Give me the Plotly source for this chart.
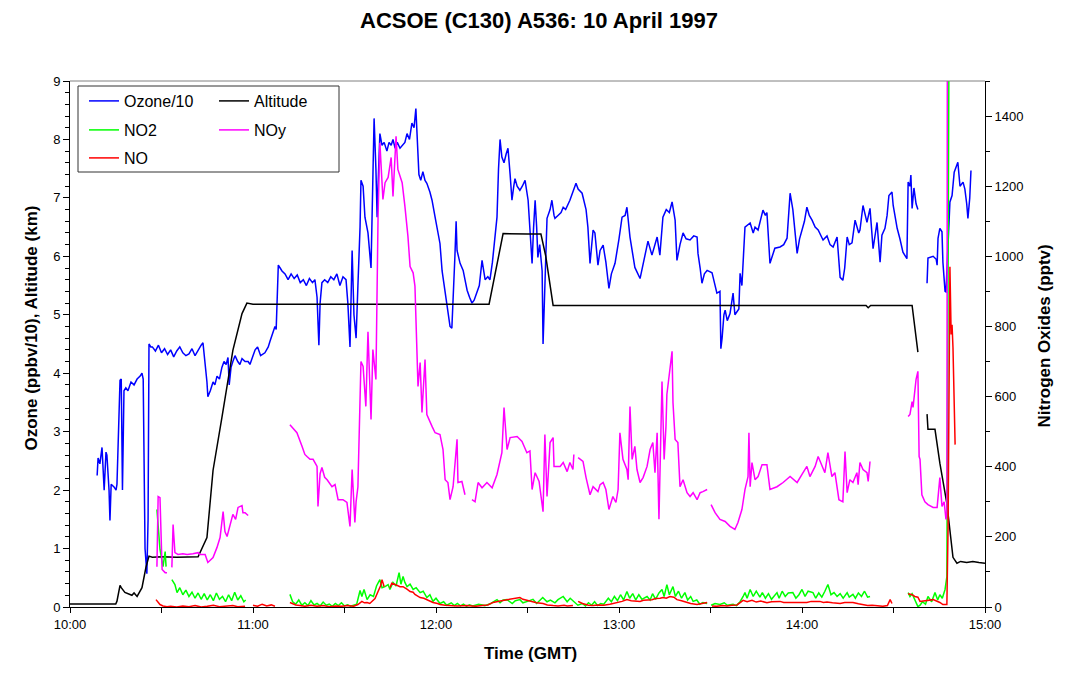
import pandas as pd
import plotly.graph_objects as go

# ---------------- data (minutes after 10:00 GMT, value) ----------------
OZONE = [(8.9,2.25),(9.2,2.55),(9.8,2.45),(10.5,2.73),(11.2,2.0),(11.8,2.65),(12.1,2.6),(12.8,2.0),(13.1,1.48),(13.5,2.1),(14.5,2.05),(15.1,2.0),(15.4,2.1),(16.1,3.7),(16.4,3.88),(16.8,3.9),(17.2,2.0),(17.7,3.7),(18.3,3.75),(19.0,3.7),(20.0,3.85),(21.0,3.8),(22.0,3.9),(23.0,3.95),(23.6,4.0),(24.0,3.9),(24.6,1.0),(25.2,0.57),(25.6,1.5),(25.9,4.5),(26.5,4.45),(27,4.45),(28,4.38),(29,4.48),(30,4.35),(31,4.42),(32,4.32),(33,4.4),(34,4.28),(35,4.38),(36,4.45),(37,4.35),(38,4.3),(39,4.33),(40,4.42),(41,4.3),(42,4.4),(43,4.48),(43.6,4.52),(44.3,4.2),(44.9,3.85),(45.2,3.6),(46.0,3.7),(46.9,3.85),(47.5,3.8),(48.2,3.95),(49.0,3.9),(49.8,4.1),(50.5,4.2),(51.2,4.15),(51.8,4.27),(52.2,3.8),(52.8,4.1),(53.4,4.2),(54.1,4.3),(55,4.2),(55.7,4.15),(56.4,4.25),(57.4,4.2),(58.4,4.2),(59.0,4.15),(60,4.3),(60.7,4.4),(61.5,4.45),(62.5,4.3),(63.9,4.35),(65.0,4.45),(65.6,4.55),(66.6,4.7),(67.2,4.8),(67.6,4.75),(67.9,5.4),(68.3,5.85),(68.9,5.8),(69.5,5.75),(70.5,5.7),(71.5,5.6),(72.5,5.7),(73.5,5.62),(74.5,5.68),(75.5,5.55),(76.5,5.6),(77.5,5.5),(78.5,5.62),(79.5,5.55),(80.3,5.6),(81.0,5.3),(81.6,4.48),(82.0,5.2),(82.6,5.55),(83.5,5.6),(84.5,5.55),(85.5,5.65),(86.5,5.6),(87.5,5.7),(88.5,5.5),(89.5,5.65),(90.5,5.6),(91.1,5.2),(91.8,4.45),(92.5,6.1),(93.1,5.0),(93.8,4.6),(94.4,5.5),(95.1,6.5),(95.4,7.3),(96.1,7.2),(96.7,6.67),(97.3,6.5),(97.7,6.4),(98.7,5.8),(99.7,8.36),(100.3,7.5),(100.7,6.67),(101.0,7.2),(101.6,8.1),(102.3,7.9),(103.0,7.95),(103.9,7.8),(104.6,7.95),(105.3,7.9),(105.9,8.0),(106.6,7.85),(107.3,7.95),(108.2,7.85),(109.0,7.9),(109.8,7.95),(110.5,8.1),(111.3,8.0),(112.1,8.28),(112.8,8.2),(113.4,8.53),(113.8,8.1),(114.4,7.4),(115.0,7.3),(115.7,7.45),(116.4,7.3),(117.0,7.25),(118.0,7.1),(118.7,6.96),(119.7,6.67),(120.5,6.45),(121.3,6.22),(122.0,5.75),(122.3,5.64),(123.0,5.4),(123.6,5.2),(124.2,5.0),(124.6,4.8),(125.2,4.77),(125.6,5.2),(126.2,6.0),(126.6,6.6),(126.9,6.1),(127.9,5.88),(128.9,5.76),(129.5,5.6),(130.2,5.42),(131.0,5.3),(131.8,5.2),(132.5,5.25),(133.4,5.37),(134.2,5.5),(135.1,5.93),(136.1,5.6),(137.0,5.65),(137.7,5.6),(138.5,5.9),(139.3,6.3),(140.0,6.67),(140.5,7.5),(141.0,8.0),(141.6,7.7),(142.3,7.6),(143.0,7.75),(143.6,7.85),(144.3,7.4),(144.9,6.96),(145.5,7.2),(145.9,7.33),(146.6,7.2),(147.5,7.13),(148.3,7.2),(149.2,7.3),(150.2,6.96),(150.8,6.5),(151.5,5.88),(152.0,6.5),(152.5,6.96),(153.0,6.5),(153.4,5.98),(154.0,6.2),(154.8,5.75),(155.1,4.5),(155.5,5.3),(156.4,6.65),(157.4,6.8),(158.0,6.96),(158.7,6.7),(159.0,6.65),(160.0,6.7),(161.0,6.75),(161.7,6.84),(162.5,6.8),(163.9,6.96),(164.9,7.1),(165.9,7.25),(166.6,7.15),(167.9,7.08),(169.2,6.8),(169.8,6.5),(170.5,5.88),(171.0,6.2),(171.5,6.45),(172.1,6.4),(172.8,6.0),(173.1,5.85),(173.8,6.1),(174.8,6.19),(175.7,5.9),(176.7,5.45),(177.5,5.7),(178.7,5.88),(180.0,6.3),(181.0,6.67),(182.0,6.7),(182.6,6.84),(183.6,6.33),(184.5,6.0),(185.2,5.81),(186.9,5.62),(188.0,5.9),(189.5,6.26),(190.8,6.02),(192.5,6.33),(193.4,6.02),(194.4,6.67),(195.5,6.8),(196.5,6.75),(197.4,6.93),(198.4,6.62),(199.0,5.93),(200.0,6.2),(201.0,6.4),(202.0,6.3),(203.3,6.28),(204.5,6.35),(205.6,6.33),(205.9,6.05),(206.6,5.8),(207.2,5.54),(208.0,5.7),(208.9,5.76),(210.5,5.72),(211.5,5.5),(212.1,5.37),(213.1,5.4),(213.4,4.42),(213.8,4.6),(214.4,5.0),(214.8,5.08),(215.5,4.9),(216.4,5.02),(217.4,5.37),(218.0,5.0),(218.7,5.05),(219.3,5.1),(219.7,5.71),(220.3,5.5),(221.3,6.5),(222.3,6.55),(223.0,6.57),(224.0,6.4),(224.6,6.5),(225.6,6.45),(226.2,6.57),(227.2,6.79),(228.0,6.7),(228.5,6.75),(229.5,5.88),(230.3,6.0),(231.1,6.14),(232.8,6.16),(234.0,6.2),(235.1,6.31),(236.1,7.08),(237.0,6.8),(238.4,6.05),(239.2,6.3),(240.0,6.45),(240.8,6.6),(241.6,6.84),(242.4,6.7),(243.3,6.62),(244.3,6.5),(245.3,6.45),(246.9,6.28),(248.2,6.35),(249.2,6.2),(250.2,6.16),(251.5,6.33),(252.5,5.64),(253.4,5.59),(254.0,5.8),(254.8,6.33),(255.5,6.2),(256.4,6.23),(257.4,6.62),(258.0,6.5),(258.6,6.4),(259.0,6.45),(259.7,6.75),(260.0,6.87),(261.3,6.58),(262.3,6.82),(263.3,6.13),(264.6,6.58),(265.6,5.9),(266.2,6.36),(267.2,6.48),(267.9,6.7),(268.5,7.04),(269.5,7.1),(269.9,6.87),(271.2,6.48),(272.1,6.3),(273.1,6.07),(274.4,5.96),(274.8,7.27),(275.4,7.2),(275.7,7.39),(276.1,6.82),(276.7,7.17),(277.4,6.9),(278.0,6.8),(279.5,None),(281.0,5.54),(281.3,5.97),(283.0,6.0),(284.0,5.95),(284.3,5.85),(284.6,6.31),(285.2,6.48),(285.9,6.42),(286.2,5.9),(286.9,5.4),(287.2,5.39),(287.5,5.8),(288.5,6.93),(289.2,7.04),(289.9,7.44),(291.1,7.61),(291.8,7.2),(292.8,7.27),(293.4,7.15),(294.0,6.9),(294.4,6.65),(295.0,7.0),(295.4,7.47)]

ALTITUDE = [(0,0.05),(15.0,0.05),(15.4,0.1),(16.4,0.37),(16.8,0.33),(18.0,0.25),(20.3,0.2),(21.0,0.24),(22.0,0.18),(23.6,0.33),(24.9,0.68),(25.9,0.87),(27,0.85),(30,0.86),(35,0.85),(40,0.86),(42.0,0.86),(44.9,1.19),(46.9,2.34),(49.8,3.24),(53.4,4.39),(56.4,5.02),(58.0,5.2),(60,5.18),(80,5.18),(100,5.18),(120,5.17),(137.4,5.18),(139.0,5.6),(142.0,6.39),(150,6.38),(154.4,6.38),(156.0,6.0),(158.4,5.16),(180,5.16),(200,5.16),(230,5.16),(261.0,5.16),(261.7,5.12),(262.5,5.16),(276.1,5.16),(278.0,4.36),(279.5,None),(281.0,3.3),(281.3,3.04),(283.6,3.04),(285.2,2.46),(287.5,1.77),(289.5,0.85),(290.8,0.75),(292,0.78),(294,0.76),(296,0.78),(298,0.76),(300,0.75)]

NOY = [(28.5,115),(28.9,315),(29.5,312),(30.2,107),(31.2,98),(31.8,98),(32.5,None),(33.4,113),(33.8,235),(34.4,155),(35.4,150),(37,152),(38.4,150),(40.3,152),(42.0,155),(42.6,150),(44.3,150),(45.2,127),(46.9,141),(48.2,170),(49.2,198),(50.2,272),(50.8,215),(51.5,201),(52.5,235),(53.4,264),(54.3,250),(55.1,284),(56.4,289),(56.7,269),(57.4,269),(58.4,261),(65,None),
       (72.1,520),(74.4,497),(76.1,458),(77.0,435),(77.7,429),(78.7,421),(79.7,421),(80.3,412),(81.0,401),(81.3,287),(82.0,380),(82.6,398),(83.5,370),(84.3,363),(85.9,343),(86.9,349),(87.9,306),(89.5,306),(90.8,298),(91.8,230),(92.5,392),(93.4,241),(93.8,300),(94.4,343),(95.1,550),(95.4,700),(96.1,686),(97.0,572),(97.7,785),(98.7,535),(99.3,734),(100.3,649),(101.0,1113),(101.6,1324),(102.6,1162),(103.3,1210),(104.3,1225),(105.3,1282),(105.9,1171),(106.9,1342),(107.5,1248),(108.9,1210),(109.8,1143),(110.8,1057),(111.5,971),(112.5,953),(113.1,915),(113.4,820),(114.1,629),(114.8,697),(115.4,555),(116.4,706),(117.0,549),(118.7,515),(119.7,497),(121.3,492),(122.3,449),(123.0,363),(123.9,355),(124.6,306),(125.6,343),(126.9,478),(127.2,355),(128.5,358),(129.5,320),(130.7,None),
       (131.8,306),(132.8,300),(133.8,355),(135.1,340),(136.7,355),(138.4,340),(140.0,378),(141.6,440),(142.3,569),(143.3,449),(144.3,483),(146.6,486),(148.2,472),(149.8,440),(150.8,445),(151.5,335),(152.5,383),(153.8,358),(155.1,272),(155.7,492),(156.4,315),(157.4,469),(158.4,483),(158.7,401),(160.0,401),(160.7,401),(161.7,412),(163.0,386),(163.9,412),(164.9,392),(165.2,435),(165.9,None),
       (166.6,426),(168.2,415),(169.2,369),(170.5,320),(171.5,343),(173.1,329),(173.8,349),(174.8,355),(175.7,335),(176.7,278),(178.0,315),(179.0,298),(179.7,335),(180.3,497),(181.3,421),(182.6,392),(183.0,363),(183.6,572),(184.3,421),(185.2,458),(185.9,392),(186.9,355),(187.9,369),(189.2,401),(190.2,449),(191.1,469),(191.8,383),(192.5,497),(193.1,250),(194.1,643),(194.8,421),(195.4,515),(195.7,606),(196.7,672),(197.4,729),(197.7,583),(198.4,478),(199.3,469),(200.0,343),(201.0,363),(202.3,326),(203.3,315),(204.3,326),(205.6,306),(206.6,326),(207.5,329),(208.9,335),(209.6,None),
       (210.2,292),(211.5,269),(213.1,250),(214.8,244),(216.4,230),(218.0,221),(219.0,241),(220.3,278),(221.3,335),(222.3,372),(222.6,497),(223.0,343),(223.6,412),(224.6,363),(225.6,372),(226.9,406),(228.5,406),(229.5,335),(231.8,343),(233.8,355),(236.1,372),(238.4,355),(240.0,378),(241.6,401),(242.6,372),(244.3,401),(245.3,429),(246.6,401),(247.5,383),(248.5,440),(249.8,372),(250.8,383),(252.1,306),(253.4,300),(254.1,443),(254.8,326),(255.7,363),(256.7,355),(258.0,383),(258.4,349),(259.0,412),(260.0,392),(261.3,383),(261.7,358),(262.3,415),(268,None),
       (274.8,543),(275.4,549),(276.1,586),(276.4,569),(277.4,649),(278.0,672),(278.4,429),(278.7,421),(279.3,320),(280.3,300),(281.3,292),(283.0,284),(284.3,284),(284.6,320),(285.2,369),(285.9,287),(286.6,300),(287.2,250),(287.5,269),(287.7,2000)]

NO2 = [(28.5,278),(29.5,164),(30.5,115),(31.2,158),(31.5,115),(32.5,None),(33.4,78),(34.4,64),(35.1,41),(36,55),(37,35),(38,48),(39,30),(40,42),(41,25),(42,40),(43,22),(44,38),(45,20),(46,35),(47,18),(48,40),(49,22),(50,30),(51,15),(52,35),(53,18),(54,42),(55,20),(56,32),(57,15),(57.6,20),(60,None),
       (72.1,36),(73,15),(74,8),(75,20),(76,5),(77,12),(78,4),(79,18),(80,6),(81,10),(82,3),(83,14),(84,5),(85,8),(86,2),(87,10),(88,4),(89,12),(90,3),(91,6),(92,2),(93,5),(94,8),(95.1,47),(95.7,30),(96.4,50),(97.4,21),(98.4,35),(99.5,30),(100.5,60),(101.6,78),(102.3,55),(103.3,58),(104.3,64),(104.9,50),(105.9,70),(106.9,60),(107.9,98),(108.5,65),(109.2,87),(109.8,70),(110.5,58),(111.5,65),(112.5,50),(113.5,55),(114.8,41),(115.8,45),(117.0,27),(118.0,35),(119.0,16),(120.0,25),(121.3,10),(122.5,15),(123.5,5),(125,12),(126,4),(127,10),(128,3),(129,8),(130,2),(131,6),(132,3),(134,8),(136,4),(138,10),(140,21),(141,12),(142,20),(143.3,21),(145,10),(146,18),(147.5,21),(148.5,12),(150,16),(151.8,22),(153,10),(155,27),(156.4,15),(157.5,20),(159,12),(160,21),(161.7,30),(163,15),(164,25),(165,18),(166.5,5),(168,10),(169,3),(170,12),(171,5),(172,15),(173,4),(174,10),(175,8),(176.5,25),(177.5,15),(178.5,30),(179.5,18),(180.5,35),(181.5,20),(182.6,44),(183.5,25),(184.5,38),(185.5,20),(186.5,35),(187.5,22),(189.2,30),(190.2,20),(191,38),(192,22),(193.1,40),(194.1,50),(194.8,30),(195.7,64),(196.5,35),(197.7,58),(198.5,30),(199.5,45),(200.5,25),(201.6,41),(202.5,20),(203.5,30),(204.3,16),(205.5,20),(206.5,8),(207.5,13),(208.9,10),(209.6,None),
       (210.2,5),(211.5,10),(213.1,7),(214.5,12),(215.5,5),(217.4,8),(218.5,4),(219.7,15),(220.7,30),(221.3,41),(222.0,25),(223.0,50),(224,30),(225,45),(226.2,28),(227,41),(228,25),(229,38),(230,22),(231.8,41),(232.5,25),(233.5,45),(234.5,30),(235.5,40),(237,41),(238,25),(239,35),(240,50),(241,30),(242,45),(243.6,41),(244.5,25),(245.5,40),(246.5,28),(247.5,45),(248.5,64),(249.5,35),(250.5,41),(251.5,30),(252.5,38),(253.5,25),(254.8,41),(255.5,28),(256.7,36),(257.5,25),(258.5,40),(259.5,30),(260.5,45),(261.5,28),(262.3,30),(268,None),
       (274.8,41),(275.4,30),(276.1,38),(277.0,21),(277.7,10),(278.0,1),(278.7,5),(279.5,15),(280.5,8),(281.3,30),(282.5,15),(283.6,41),(284.5,20),(285.2,35),(286.0,25),(286.9,50),(287.5,87),(288.6,2500)]

NO = [(28.2,21),(28.9,12),(29.5,7),(30.5,3),(31.8,1),(33,2),(35,0),(37,3),(39,1),(41,4),(43,0),(45,2),(47,5),(49,1),(51,3),(53.4,4),(55,1),(57.4,2),(58.5,None),(60.0,5),(61.5,2),(63,8),(64.5,3),(66,6),(67.2,2),(69,None),
      (72.1,13),(73,9),(74,6),(75.4,4),(77,2),(79,5),(81,2),(83,4),(85,1),(87,3),(89,2),(91,4),(93,2),(94.4,7),(95.7,16),(96.5,12),(97.4,13),(98.3,10),(99,16),(100.0,24),(101.0,44),(101.8,60),(102.3,78),(103.0,58),(103.8,None),
      (104.9,55),(105.5,68),(106.6,64),(107.5,60),(108.2,58),(109.2,58),(109.8,55),(110.6,50),(111.5,44),(112.5,42),(113.1,36),(114.1,32),(114.8,27),(116,25),(117.0,21),(118.2,18),(119.0,13),(120.5,10),(121.3,7),(123,5),(124.6,4),(127,3),(130,4),(133,2),(135.1,4),(137,6),(138.7,13),(140,16),(141.5,18),(143.3,21),(145.2,24),(147.5,27),(148.5,22),(149.8,19),(151.8,13),(153,12),(155.1,10),(156.5,6),(158.4,4),(160,3),(162,5),(163,3),(164.9,4),(165.9,None),
      (166.6,16),(168,10),(170,5),(171.5,4),(173,6),(175,5),(177.0,8),(178.0,10),(179.7,13),(181,16),(182.6,21),(184,18),(186.9,16),(188,19),(190.8,21),(192,24),(193.5,25),(194.4,27),(195.5,25),(196.7,30),(198,28),(199.0,21),(200.5,18),(202.3,13),(203.5,10),(205.6,7),(207,9),(208.9,13),(209.6,None),
      (210.5,3),(212,2),(214,4),(215.4,3),(217,5),(218.7,6),(220.7,19),(222,15),(223.6,19),(225,14),(226.5,17),(228.5,12),(230,15),(232.8,16),(234,13),(237.0,13),(239,15),(241.6,13),(243,16),(245.9,16),(247,13),(248.2,14),(250,12),(252.5,10),(254,13),(256.7,13),(258.5,9),(260,6),(261.5,4),(263,5),(265,3),(266.5,2),(268,4),(268.9,21),(269.5,10),(272,None),
      (274.8,38),(276.1,35),(277.0,30),(278.0,28),(278.7,16),(281.0,18),(283.0,21),(285.2,13),(286.2,7),(287.5,7),(287.9,230),(288.5,970),(288.9,777),(289.2,805),(289.5,740),(290.2,463)]

HOUR_TICKS = ["10:00", "11:00", "12:00", "13:00", "14:00", "15:00"]

BASE = pd.Timestamp("1997-04-10 10:00")


def split(series):
    ts = [BASE + pd.Timedelta(minutes=m) for m, _ in series]
    vs = [v for _, v in series]
    return ts, vs


FONT = "Liberation Sans, Arial, sans-serif"

# page body adds an 8px margin; the figure is sized so the plot lands where intended
OFF = 8
W, H = 1067 - OFF, 676 - OFF
PL, PR, PT, PB = 70, 985, 81, 607          # plot area in window pixels
ML, MT = PL - OFF, PT - OFF
MR, MB = W - (PR - OFF), H - (PB - OFF)
PW, PH = PR - PL, PB - PT


def px_x(px):
    return (px - PL) / PW


def px_y(py):
    return (PB - py) / PH


fig = go.Figure()

specs = [
    ("Ozone/10", OZONE, "#0000FF", "y", "legend"),
    ("Altitude", ALTITUDE, "#000000", "y", "legend2"),
    ("NO2", NO2, "#00FF00", "y2", "legend3"),
    ("NOy", NOY, "#FF00FF", "y2", "legend4"),
    ("NO", NO, "#FF0000", "y2", "legend5"),
]
for name, ser, col, ax, leg in specs:
    ts, vs = split(ser)
    fig.add_trace(go.Scatter(x=ts, y=vs, mode="lines", name=name, yaxis=ax,
                             line=dict(color=col, width=1.5), legend=leg,
                             connectgaps=False, showlegend=True))

leg_common = dict(font=dict(family=FONT, size=16, color="black"),
                  bgcolor="rgba(0,0,0,0)", borderwidth=0,
                  xanchor="left", yanchor="middle", orientation="h",
                  xref="paper", yref="paper")
col1, col2 = px_x(84), px_x(214)
fig.update_layout(
    showlegend=True,
    legend=dict(x=col1, y=px_y(101), **leg_common),
    legend2=dict(x=col2, y=px_y(101), **leg_common),
    legend3=dict(x=col1, y=px_y(130), **leg_common),
    legend4=dict(x=col2, y=px_y(130), **leg_common),
    legend5=dict(x=col1, y=px_y(158), **leg_common),
)

t0 = BASE
t1 = BASE + pd.Timedelta(hours=5)
fig.update_layout(
    width=W, height=H,
    margin=dict(l=ML, r=MR, t=MT, b=MB, autoexpand=False),
    paper_bgcolor="white", plot_bgcolor="white",
    font=dict(family=FONT, size=13, color="black"),
    title=dict(text="<b>ACSOE (C130) A536: 10 April 1997</b>",
               x=(539 - OFF) / W, xanchor="center", y=1 - (20 - OFF) / H, yanchor="middle",
               font=dict(family=FONT, size=22, color="black")),
    xaxis=dict(type="date", range=[t0, t1],
               tickvals=[BASE + pd.Timedelta(hours=i) for i in range(6)],
               ticktext=HOUR_TICKS,
               ticks="outside", ticklen=5, tickwidth=1, tickcolor="black",
               minor=dict(dtick=1800000, ticks="outside", ticklen=5, tickcolor="black"),
               showline=True, linecolor="black", linewidth=1,
               showgrid=False, zeroline=False,
               tickfont=dict(family=FONT, size=13, color="black")),
    yaxis=dict(range=[0, 9], dtick=1, ticks="outside", ticklen=6, tickcolor="black",
               minor=dict(dtick=0.2, ticks="outside", ticklen=4, tickcolor="black"),
               showline=True, linecolor="black", linewidth=1,
               showgrid=False, zeroline=False,
               tickfont=dict(family=FONT, size=13, color="black")),
    yaxis2=dict(range=[0, 1500], dtick=200, overlaying="y", side="right",
                ticks="outside", ticklen=6, tickcolor="black",
                minor=dict(dtick=100, ticks="outside", ticklen=4, tickcolor="black"),
                showline=True, linecolor="black", linewidth=1,
                showgrid=False, zeroline=False,
                tickfont=dict(family=FONT, size=13, color="black")),
)

# plot-area top border and legend box
fig.add_shape(type="line", xref="paper", yref="paper", x0=0, x1=1, y0=1, y1=1,
              line=dict(color="#808080", width=1))
fig.add_shape(type="rect", xref="paper", yref="paper",
              x0=px_x(78), x1=px_x(339), y0=px_y(172), y1=px_y(86),
              line=dict(color="#333333", width=1), fillcolor="rgba(0,0,0,0)")

fig.add_annotation(text="<b>Time (GMT)</b>", xref="paper", yref="paper",
                   x=px_x(530), y=px_y(665), showarrow=False,
                   font=dict(family=FONT, size=17, color="black"))
fig.add_annotation(text="<b>Ozone (ppbv/10), Altitude (km)</b>", xref="paper", yref="paper",
                   x=px_x(19), y=px_y(328), showarrow=False, textangle=-90,
                   font=dict(family=FONT, size=17, color="black"))
fig.add_annotation(text="<b>Nitrogen Oxides (pptv)</b>", xref="paper", yref="paper",
                   x=px_x(1055), y=px_y(336), showarrow=False, textangle=-90,
                   font=dict(family=FONT, size=17, color="black"))

fig.write_html("out.html")
